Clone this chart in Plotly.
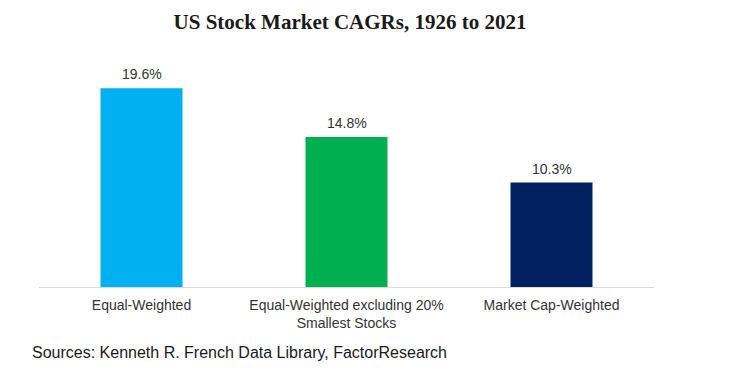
import plotly.graph_objects as go

categories = ["Equal-Weighted", "Equal-Weighted excluding 20%<br>Smallest Stocks", "Market Cap-Weighted"]
cagr = [19.6, 14.8, 10.3]
labels = ["19.6%", "14.8%", "10.3%"]
colors = ["#00b0f0", "#00b050", "#002060"]

fig = go.Figure(go.Bar(
    x=categories, y=cagr,
    marker=dict(color=colors, line=dict(width=0)),
    hoverinfo="skip",
))

# page body has an 8px offset; margins compensate
PW = 615
PH = 223
fig.update_layout(
    width=740, height=385,
    margin=dict(l=31, r=94, t=56, b=106),
    paper_bgcolor="white", plot_bgcolor="white",
    bargap=0.6,
    showlegend=False,
    title=dict(text="<b>US Stock Market CAGRs, 1926 to 2021</b>", x=342/740,
               xanchor="center", xref="container",
               y=1 - 14/385, yanchor="middle",
               font=dict(family="Liberation Serif, Times New Roman", size=21, color="#1a1a1a")),
    xaxis=dict(range=[-0.5, 2.5], showline=True, linecolor="#d9d9d9", linewidth=1,
               ticks="", showgrid=False, ticklabelstandoff=5,
               tickfont=dict(family="Liberation Sans, Arial", size=14, color="#333333")),
    yaxis=dict(range=[0, 22], visible=False, showgrid=False, zeroline=False),
)

for c, v, t in zip(categories, cagr, labels):
    fig.add_annotation(x=c, y=v, text=t, showarrow=False, yanchor="middle", yshift=14,
                       font=dict(family="Liberation Sans, Arial", size=14, color="#333333"))

fig.add_annotation(text="Sources: Kenneth R. French Data Library, FactorResearch",
                   xref="paper", yref="paper", x=-9/PW, y=-65.7/PH,
                   xanchor="left", yanchor="middle", showarrow=False,
                   font=dict(family="Liberation Sans, Arial", size=16, color="#1a1a1a"))

fig.write_html("out.html")
